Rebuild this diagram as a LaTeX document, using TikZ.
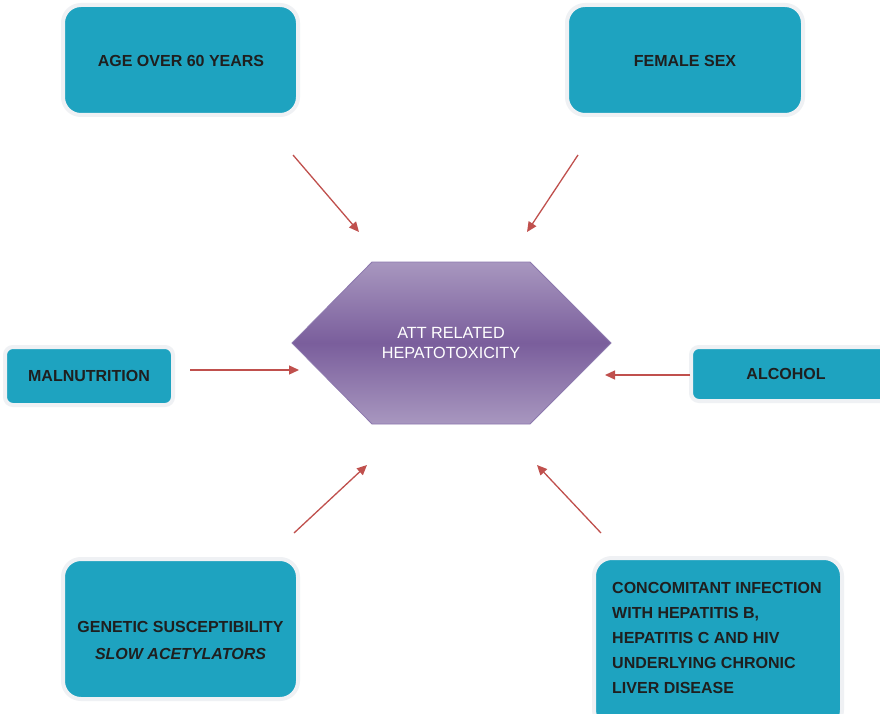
\documentclass[tikz,border=0pt]{standalone}
\usepackage{fontspec}
\setmainfont{Liberation Sans}
\definecolor{teal1}{HTML}{1EA3C0}
\definecolor{rim}{HTML}{EFF1F4}
\definecolor{arr}{HTML}{C0504D}
\definecolor{txt}{HTML}{1F1F1F}
\definecolor{hexlight}{HTML}{A897BF}
\definecolor{hexdark}{HTML}{7A5E9C}
\definecolor{hexline}{HTML}{8C78AE}
\usetikzlibrary{arrows.meta}
\tikzset{
  factor/.style={draw=rim, line width=4pt, fill=teal1, rounded corners=18pt,
    inner sep=0pt},
  smallfactor/.style={factor, rounded corners=8pt},
  label/.style={font=\fontsize{16}{25}\selectfont\bfseries, text=txt, align=center},
  link/.style={draw=arr, line width=1.3pt, -{Triangle[length=10pt,width=9pt]}},
}
\begin{document}
\begin{tikzpicture}[x=1pt,y=-1pt]
\useasboundingbox (0,0) rectangle (880,714);
\fill[white] (0,0) rectangle (880,714);

% boxes
\node[factor, minimum width=235pt, minimum height=110pt] (age) at (180.5,60) {};
\node[label] (ageT) at (181,61) {AGE OVER 60 YEARS};
\node[factor, minimum width=236pt, minimum height=110pt] (fem) at (685,60) {};
\node[label] (femT) at (685,61) {FEMALE SEX};
\node[smallfactor, minimum width=168pt, minimum height=58pt] (mal) at (89,376) {};
\node[label] (malT) at (89,376) {MALNUTRITION};
\node[smallfactor, minimum width=220pt, minimum height=54pt] (alc) at (801,374) {};
\node[label] (alcT) at (786,374) {ALCOHOL};
\node[factor, minimum width=235pt, minimum height=140pt] (gen) at (180.5,629) {};
\node[label, font=\fontsize{16}{27}\selectfont\bfseries] (genT) at (180.5,640.5) {GENETIC SUSCEPTIBILITY\\\itshape SLOW ACETYLATORS};
\node[factor, minimum width=248pt, minimum height=170pt] (con) at (718,643) {};
\node[label, align=left, anchor=north west, inner sep=0pt] (conT) at (612,582)
 {CONCOMITANT INFECTION\\WITH HEPATITIS B,\\HEPATITIS C AND HIV\\UNDERLYING CHRONIC\\LIVER DISEASE};

% hexagon
\coordinate (h1) at (372,262);
\coordinate (h2) at (530,262);
\coordinate (h3) at (611,343);
\coordinate (h4) at (530,424);
\coordinate (h5) at (372,424);
\coordinate (h6) at (292,343);
\shade[top color=hexlight, bottom color=hexlight, middle color=hexdark, draw=hexline, line width=0.8pt]
  (h1) -- (h2) -- (h3) -- (h4) -- (h5) -- (h6) -- cycle;
\node[font=\fontsize{16.2}{19.5}\selectfont, text=white, align=center] (hex) at (451,343) {ATT RELATED\\HEPATOTOXICITY};

% arrows
\coordinate (a1s) at (293,155); \coordinate (a1e) at (359,232);
\coordinate (a2s) at (578,155); \coordinate (a2e) at (527,232);
\coordinate (a3s) at (190,370); \coordinate (a3e) at (299,370);
\coordinate (a4s) at (690,375); \coordinate (a4e) at (605,375);
\coordinate (a5s) at (294,533); \coordinate (a5e) at (367,465);
\coordinate (a6s) at (601,533); \coordinate (a6e) at (537,465);
\draw[link] (a1s) -- (a1e);
\draw[link] (a2s) -- (a2e);
\draw[link] (a3s) -- (a3e);
\draw[link] (a4s) -- (a4e);
\draw[link] (a5s) -- (a5e);
\draw[link] (a6s) -- (a6e);
\end{tikzpicture}
\end{document}
